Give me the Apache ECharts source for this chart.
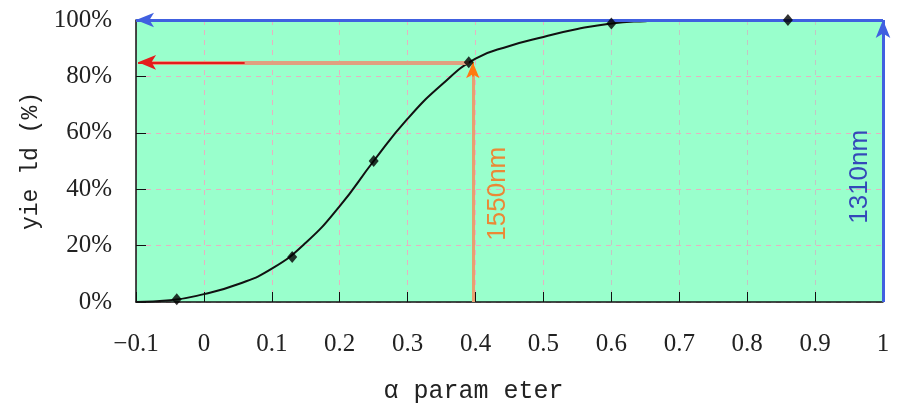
<!DOCTYPE html>
<html>
<head>
<meta charset="utf-8">
<script src="https://cdn.jsdelivr.net/npm/echarts@6/dist/echarts.min.js"></script>
<style>
  html, body { margin: 0; padding: 0; background: #fff; }
  #chart { width: 898px; height: 409px; }
</style>
</head>
<body>
<div id="chart"></div>
<script>
// measured points (diamonds)
const alphaPoints = [-0.04, 0.13, 0.25, 0.39, 0.6, 0.86]
const yieldPoints = [1, 16, 50, 85, 98.8, 100]

// fitted curve
const curveAlpha = [-0.1, -0.05, 0, 0.05, 0.1, 0.15, 0.2, 0.25, 0.3, 0.35, 0.4, 0.45, 0.5, 0.55, 0.6, 0.65, 0.7, 0.8, 0.86]
const curveYield = [0, 0.6, 2.8, 6.3, 11.8, 21, 34, 50, 65, 77, 86.3, 90.8, 94, 96.8, 98.8, 99.6, 100, 100, 100]

const xTickLabels = ['\u22120.1', '0', '0.1', '0.2', '0.3', '0.4', '0.5', '0.6', '0.7', '0.8', '0.9', '1']
const yTickLabels = ['0%', '20%', '40%', '60%', '80%', '100%']

// wavelength markers
const alpha1550 = 0.396
const yield1550 = 85
const alpha1310 = 1

const serif = '"Liberation Serif", "Times New Roman", serif'
const mono = '"Liberation Mono", "Courier New", monospace'
const sans = '"Liberation Sans", Arial, sans-serif'

const chart = echarts.init(document.getElementById('chart'))

const pink = '#e6b2c2'
const grey = '#c4c4c4'

const option = {
  animation: false,
  grid: {
    left: 136, right: 15, top: 20, bottom: 105,
    show: true,
    backgroundColor: '#99ffcc',
    borderWidth: 0
  },
  xAxis: {
    type: 'value',
    min: -0.1, max: 1, interval: 0.1,
    name: 'α param eter',
    nameLocation: 'middle',
    nameGap: 77,
    nameTextStyle: { fontFamily: mono, fontSize: 25, color: '#222', padding: [0, 72, 0, 0] },
    axisLine: { onZero: false, lineStyle: { color: '#111', width: 1.5 } },
    axisTick: { inside: true, length: 10, lineStyle: { color: '#111' } },
    axisLabel: {
      fontFamily: serif, fontSize: 25, color: '#222', margin: 30,
      formatter: (v, i) => xTickLabels[i]
    },
    splitLine: {
      show: true,
      lineStyle: { type: [5, 5], color: [pink, pink, pink, pink, pink, pink, pink, grey, grey, grey, grey, grey] }
    }
  },
  yAxis: {
    type: 'value',
    min: 0, max: 100, interval: 20,
    name: 'yie ld (%)',
    nameLocation: 'middle',
    nameRotate: 90,
    nameGap: 84,
    nameTextStyle: { fontFamily: mono, fontSize: 23, color: '#222' },
    axisLine: { show: true, onZero: false, lineStyle: { color: '#111', width: 1.5 } },
    axisTick: { inside: true, length: 10, lineStyle: { color: '#111' } },
    axisLabel: {
      fontFamily: serif, fontSize: 25, color: '#222', margin: 24,
      formatter: (v, i) => yTickLabels[i]
    },
    splitLine: { show: true, lineStyle: { type: [5, 5], color: pink } }
  },
  series: [
    {
      name: 'fit',
      type: 'line',
      data: curveAlpha.map((a, i) => [a, curveYield[i]]),
      smooth: true,
      showSymbol: false,
      lineStyle: { color: '#111', width: 2 },
      z: 2
    },
    {
      name: 'arrows',
      type: 'line',
      data: [],
      z: 3,
      markLine: {
        silent: true,
        animation: false,
        label: { show: false },
        data: [
          // 1310nm: vertical then across the top
          [{ coord: [alpha1310, 0], symbol: 'none', lineStyle: { color: '#4060e0', width: 3, type: 'solid' } },
           { coord: [alpha1310, 100], symbol: 'arrow', symbolSize: [11, 18] }],
          [{ coord: [alpha1310, 100], symbol: 'none', lineStyle: { color: '#4060e0', width: 3, type: 'solid' } },
           { coord: [-0.1, 100], symbol: 'arrow', symbolSize: [11, 18] }],
          // 1550nm: vertical then across to the y axis
          [{ coord: [alpha1550, 0], symbol: 'none', lineStyle: { color: '#e8a070', width: 3, type: 'solid' } },
           { coord: [alpha1550, yield1550 - 4], symbol: 'none' }],
          [{ coord: [alpha1550, yield1550 - 5], symbol: 'none', lineStyle: { color: '#ff7a10', width: 2, type: 'solid' } },
           { coord: [alpha1550, yield1550], symbol: 'arrow', symbolSize: [10, 16] }],
          [{ coord: [0.39, yield1550], symbol: 'none', lineStyle: { color: '#e0a080', width: 4, type: 'solid' } },
           { coord: [-0.08, yield1550], symbol: 'none' }],
          [{ coord: [0.06, yield1550], symbol: 'none', lineStyle: { color: '#e41c1c', width: 2, type: 'solid' } },
           { coord: [-0.097, yield1550], symbol: 'arrow', symbolSize: [11, 18] }]
        ]
      }
    },
    {
      name: 'measured',
      type: 'scatter',
      data: alphaPoints.map((a, i) => [a, yieldPoints[i]]),
      symbol: 'diamond',
      symbolSize: [10, 12],
      itemStyle: { color: '#000' },
      z: 5
    },
    {
      name: 'labels',
      type: 'scatter',
      symbolSize: 1,
      itemStyle: { color: 'rgba(0,0,0,0)' },
      data: [
        { value: [0.433, 38.4], label: { formatter: '1550nm', color: '#ff6a10' } },
        { value: [0.966, 44.4], label: { formatter: '1310nm', color: '#1a1ab4' } }
      ],
      label: {
        show: true, position: 'inside', rotate: 90,
        fontFamily: sans, fontSize: 26
      },
      z: 6
    }
  ]
}

chart.setOption(option)
</script>
</body>
</html>
